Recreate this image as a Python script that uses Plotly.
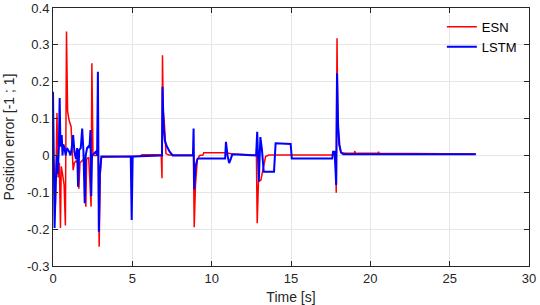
import plotly.graph_objects as go

# ESN series (time [s], position error)
esn_t = [0, 0.08, 0.15, 0.25, 0.32, 0.4, 0.47, 0.52, 0.6, 0.7, 0.78, 0.85, 0.92, 1.01, 1.14, 1.27,
         1.35, 1.45, 1.55, 1.63, 1.7, 1.8, 1.95, 2.07, 2.12, 2.25, 2.4, 2.45, 2.52, 2.65, 2.85,
         2.91, 2.98, 3.05, 4.9, 4.96, 5.02, 5.5, 5.6, 6.82, 6.87, 6.9, 6.95, 7.02, 7.12, 7.3,
         8.85, 8.9, 8.98, 9.1, 9.25, 9.45, 9.5, 10.9, 11.3, 12.4, 12.82, 12.87, 12.95, 13.1,
         13.25, 13.4, 13.6, 17.82, 17.85, 17.9, 17.95, 18.02, 18.15, 18.4, 19.0, 19.02, 19.05,
         20.5, 20.52, 20.55, 26.65]
esn_v = [0.0, -0.05, -0.135, 0.115, -0.06, -0.02, -0.197, -0.03, -0.05, -0.08, -0.19, 0.336, 0.12,
         0.096, 0.078, -0.04, -0.02, -0.015, -0.02, -0.09, -0.02, -0.015, -0.01, -0.139, -0.01,
         -0.005, -0.139, 0.25, 0.0, 0.0, 0.0, -0.248, -0.05, -0.005, -0.003, -0.02, -0.003,
         -0.002, 0.002, 0.002, -0.062, 0.272, 0.12, 0.088, 0.005, 0.001, 0.001, -0.195, -0.08,
         -0.01, 0.0, 0.001, 0.007, 0.007, 0.004, 0.002, 0.001, -0.184, -0.07, -0.067, -0.03,
         -0.003, 0.001, 0.001, -0.101, 0.318, 0.1, 0.03, 0.008, 0.006, 0.006, 0.012, 0.006,
         0.006, 0.01, 0.006, 0.004]

# LSTM series
lstm_t = [0, 0.05, 0.1, 0.17, 0.25, 0.3, 0.37, 0.42, 0.47, 0.55, 0.6, 0.65, 0.72, 0.8, 0.88,
          0.95, 1.02, 1.1, 1.18, 1.27, 1.35, 1.45, 1.52, 1.58, 1.65, 1.75, 1.84, 1.92, 2.0,
          2.06, 2.15, 2.25, 2.3, 2.36, 2.41, 2.46, 2.6, 2.7, 2.78, 2.83, 2.89, 2.95, 3.05,
          4.9, 4.96, 5.02, 6.82, 6.87, 6.9, 6.97, 7.05, 7.18, 7.35, 7.55, 8.82, 8.86, 8.9,
          8.98, 9.1, 9.2, 10.85, 10.9, 11.0, 11.1, 11.2, 11.3, 12.8, 12.87, 12.97, 13.07,
          13.17, 13.28, 13.93, 14.03, 14.98, 15.05, 17.6, 17.65, 17.75, 17.85, 17.9, 17.97,
          18.05, 18.15, 18.3, 26.65]
lstm_v = [0.173, 0.0, -0.197, -0.08, 0.0, -0.05, 0.02, 0.156, 0.024, 0.055, 0.0, 0.03, 0.02,
          0.0, 0.02, 0.015, 0.01, 0.0, 0.02, 0.055, 0.01, -0.01, 0.02, -0.085, 0.015, 0.02,
          0.073, 0.01, -0.13, 0.0, 0.02, 0.025, 0.02, 0.069, -0.11, 0.0, 0.005, 0.01, 0.0,
          0.227, -0.207, -0.05, -0.003, -0.003, -0.175, -0.003, 0.0, 0.0, 0.186, 0.08, 0.04,
          0.024, 0.01, 0.0, 0.0, 0.073, -0.092, -0.03, -0.01, -0.008, -0.008, 0.037, 0.0,
          -0.021, -0.01, 0.003, 0.0, 0.064, -0.071, 0.05, 0.015, -0.044, -0.044, 0.033, 0.031,
          -0.008, -0.008, 0.01, 0.01, -0.08, 0.223, 0.08, 0.03, 0.008, 0.003, 0.003]

x_ticks = [0, 5, 10, 15, 20, 25, 30]
y_ticks = [-0.3, -0.2, -0.1, 0, 0.1, 0.2, 0.3, 0.4]
y_labels = ["-0.3", "-0.2", "-0.1", "0", "0.1", "0.2", "0.3", "0.4"]

fig = go.Figure()
fig.add_trace(go.Scatter(x=esn_t, y=esn_v, mode="lines", name="ESN",
                         line=dict(color="#ff0000", width=1.5)))
fig.add_trace(go.Scatter(x=lstm_t, y=lstm_v, mode="lines", name="LSTM",
                         line=dict(color="#0000ff", width=2)))

axis_common = dict(showline=True, linecolor="#262626", linewidth=1, mirror="ticks",
                   ticks="inside", ticklen=5, tickcolor="#262626", automargin=False,
                   showgrid=True, gridcolor="#e6e6e6", gridwidth=1, zeroline=False,
                   tickfont=dict(family="Liberation Sans, Arial", size=13, color="#262626"))

fig.update_layout(
    width=540, height=305,
    margin=dict(l=53, r=11, t=8, b=39),
    paper_bgcolor="white", plot_bgcolor="white",
    font=dict(family="Liberation Sans, Arial", color="#262626"),
    xaxis=dict(range=[0, 30], tickvals=x_ticks,
               title=dict(text="Time [s]", font=dict(size=14), standoff=7), **axis_common),
    yaxis=dict(range=[-0.3, 0.4], tickvals=y_ticks, ticktext=y_labels,
               title=dict(text="Position error [-1 ; 1]", font=dict(size=14), standoff=9),
               **axis_common),
    legend=dict(x=0.985, y=0.985, xanchor="right", yanchor="top", bgcolor="rgba(0,0,0,0)",
                font=dict(size=13, color="#000000"), tracegroupgap=0, itemwidth=30),
    showlegend=True,
)

fig.write_html("out.html", config={"displayModeBar": False},
               post_script="document.body.style.margin='0';")
